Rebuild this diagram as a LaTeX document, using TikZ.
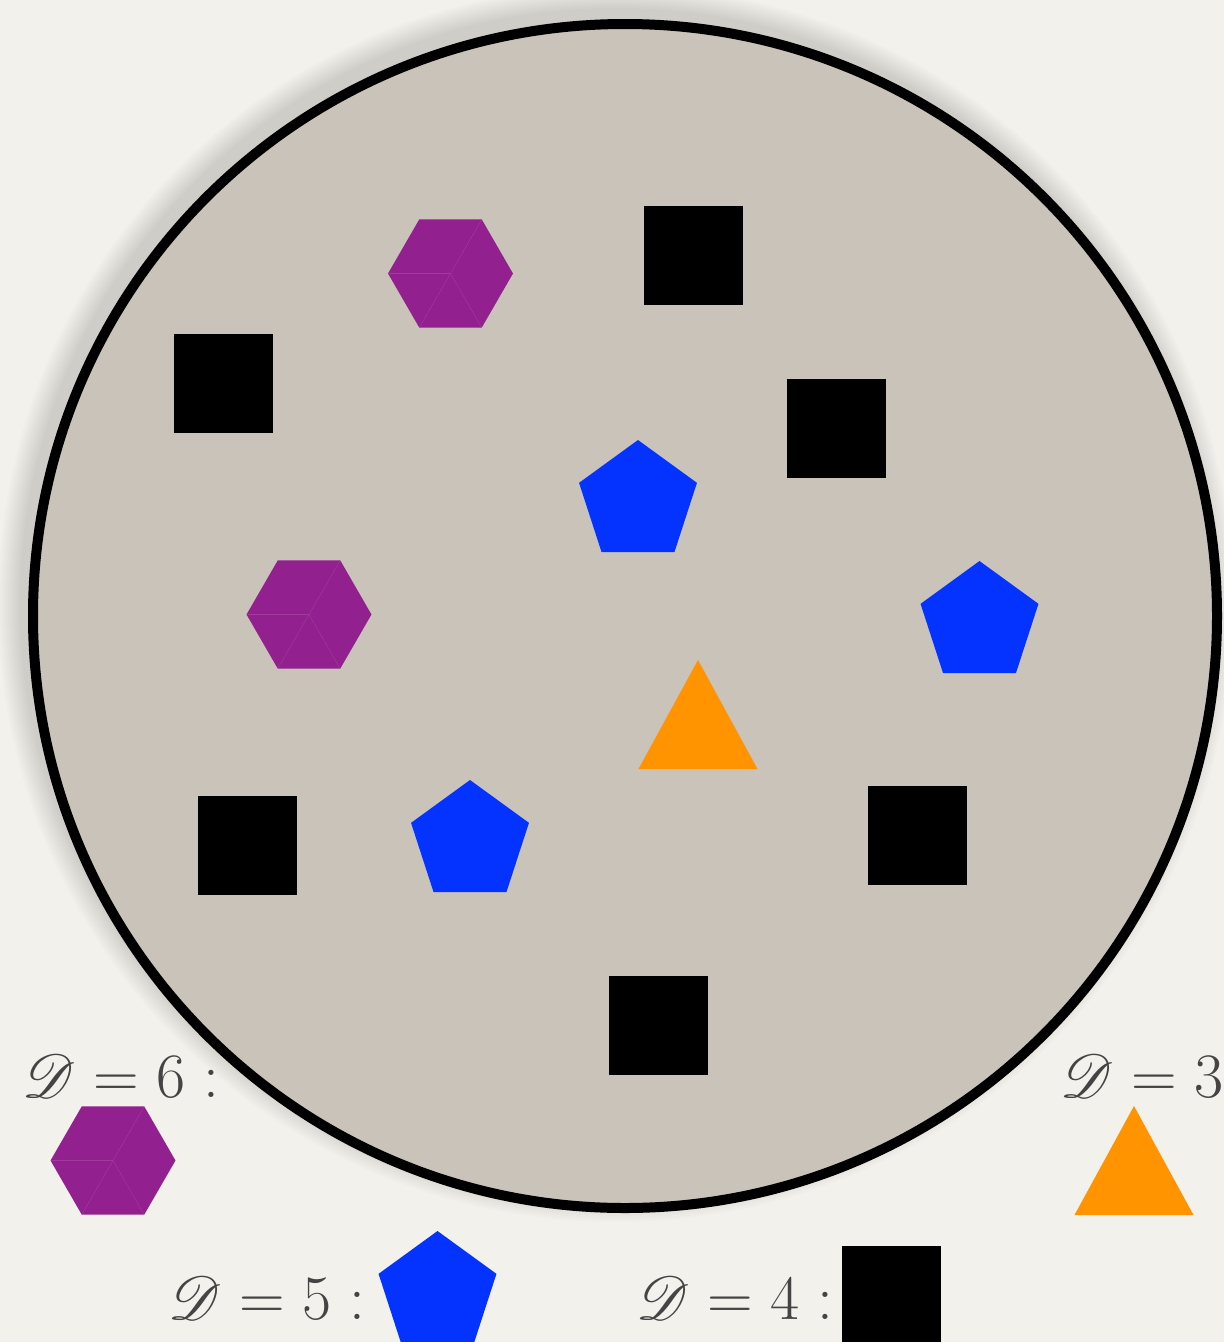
\RequirePackage{fix-cm}
\documentclass[tikz,border=0pt]{standalone}
\usepackage{mathrsfs}
\usepackage{xcolor}
\usetikzlibrary{shapes.geometric,calc}
\definecolor{paper}{RGB}{243,241,236}
\definecolor{disk}{RGB}{201,195,186}
\definecolor{hexpurple}{RGB}{147,32,143}
\definecolor{pentblue}{RGB}{4,51,255}
\definecolor{triorange}{RGB}{255,147,0}
\definecolor{labgray}{RGB}{68,68,68}
\newcommand{\degD}{\scalebox{1.4}{$\mathscr{D}$}}
\tikzset{
  sqbox/.style={fill=black,minimum size=1.98cm,inner sep=0pt,outer sep=0pt},
  pent/.style={regular polygon,regular polygon sides=5,fill=pentblue,
               minimum size=2.48cm,inner sep=0pt,outer sep=0pt},
  hexa/.style={regular polygon,regular polygon sides=6,fill=hexpurple,
               minimum size=2.5cm,inner sep=0pt,outer sep=0pt},
  seam/.style={draw=hexpurple!88!white,line width=0.25pt},
  tri/.style={fill=triorange},
  lab/.style={text=labgray,font=\fontsize{36}{42}\selectfont,inner sep=0pt},
}
% hexagon with its faint seams
\newcommand{\hexat}[2]{%
  \node[hexa] (#1) at (#2) {};
  \foreach \a in {60,120,180,300}{\draw[seam] (#1.center) -- ++(\a:62);}
}
% triangle from its apex
\newcommand{\triat}[2]{%
  \coordinate (#1) at (#2);
  \fill[tri] (#1) -- ++(-59.5,109) -- ++(119,0) -- cycle;
}

\begin{document}
\begin{tikzpicture}[x=0.02cm,y=-0.02cm]
\useasboundingbox (0,0) rectangle (1224,1342);
\clip (0,0) rectangle (1224,1342);
\fill[paper] (0,0) rectangle (1224,1342);
% soft shadow and disk
\foreach \i in {1,...,12}{
  \fill[black,opacity=0.012] (616,604) circle ({594+2*\i});
}
\draw[line width=0.2cm,fill=disk] (625,616) circle (592);
% squares
\node[sqbox] (s1) at (693.5,255.5) {};
\node[sqbox] (s2) at (223.5,383.5) {};
\node[sqbox] (s3) at (836.5,428.5) {};
\node[sqbox] (s4) at (247.5,845.5) {};
\node[sqbox] (s5) at (917.5,835.5) {};
\node[sqbox] (s6) at (658.5,1025.5) {};
% pentagons
\node[pent] (p1) at (638,502) {};
\node[pent] (p2) at (979.5,623) {};
\node[pent] (p3) at (470,842) {};
% hexagons
\hexat{h1}{450.5,273.5}
\hexat{h2}{309,614.5}
% triangle
\triat{t1}{698,660}
% legend
\node[lab] (lab6) at (121,1076) {\degD${} = 6 :$};
\hexat{key6}{113,1160.5}
\node[lab] (lab3) at (1142,1076) {\degD${} = 3$};
\triat{key3}{1134,1106}
\node[lab] (lab5) at (267,1298) {\degD${} = 5 :$};
\node[pent] (key5) at (437.5,1293) {};
\node[lab] (lab4) at (735,1298) {\degD${} = 4 :$};
\node[sqbox] (key4) at (891.5,1295.5) {};
\end{tikzpicture}
\end{document}
